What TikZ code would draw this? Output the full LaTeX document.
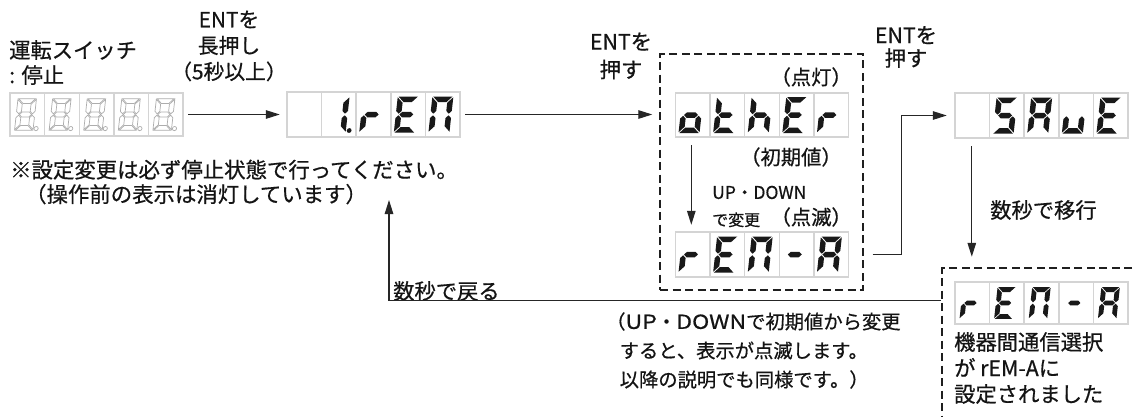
\documentclass[tikz,border=0pt]{standalone}
\usepackage{fontspec}
\usepackage{graphicx}
\setmainfont{Noto Sans CJK JP}[FakeBold=0.6]
\usetikzlibrary{arrows.meta}

\newcommand\Sega{\path[seg] (-9.7,-18)--(9.7,-18)--(4.2,-12.5)--(-4.2,-12.5)--cycle;}
\newcommand\Segd{\path[seg] (-9.7,18)--(9.7,18)--(4.2,12.5)--(-4.2,12.5)--cycle;}
\newcommand\Segg{\path[seg] (-6.95,0)--(-4.2,-2.75)--(4.2,-2.75)--(6.95,0)--(4.2,2.75)--(-4.2,2.75)--cycle;}
\newcommand\Segf{\path[seg] (-10.5,-17.2)--(-5,-11.7)--(-5,-3.55)--(-7.75,-0.8)--(-10.5,-3.55)--cycle;}
\newcommand\Sege{\path[seg] (-10.5,17.2)--(-5,11.7)--(-5,3.55)--(-7.75,0.8)--(-10.5,3.55)--cycle;}
\newcommand\Segb{\path[seg] (10.5,-17.2)--(5,-11.7)--(5,-3.55)--(7.75,-0.8)--(10.5,-3.55)--cycle;}
\newcommand\Segc{\path[seg] (10.5,17.2)--(5,11.7)--(5,3.55)--(7.75,0.8)--(10.5,3.55)--cycle;}
\newcommand\Segp{\path[seg] (13.8,16) circle (2.4);}
\newcommand\Segn{}
\newcommand\wideltr[1]{\scalebox{1.2}[1]{#1}}

% name, left x, top y, height, list of cells, digit scale
\newcommand\sevdisp[6]{%
  \node[disp, minimum height=#4pt] (#1) at (#2+86.5, #3+#4/2) {};
  \foreach \segs [count=\i from 0] in {#5} {
    \draw[cell] (#2+\i*34.6, #3) rectangle ++(34.6, #4);
    \begin{scope}[shift={(#2+\i*34.6+15.5, #3+#4/2)}, xslant=0.11, scale=#6]
      \foreach \s in \segs {\csname Seg\s\endcsname}
    \end{scope}
  }}

\begin{document}
\begin{tikzpicture}[x=1pt, y=-1pt,
  seg/.style={fill=black!90},
  cell/.style={draw=black!17, line width=1.5pt},
  disp/.style={inner sep=0pt, minimum width=173pt},
  dbox/.style={draw=black!88, line width=2.5pt, dash pattern=on 8pt off 4.5pt, inner sep=0pt},
  arr/.style={draw=black!85, line width=1.2pt, -{Triangle[length=14pt,width=8.5pt]}},
  txt/.style={font=\fontsize{21.3}{25}\selectfont, text=black!92, inner sep=0pt},
  mid/.style={font=\fontsize{20.3}{25}\selectfont, text=black!92, inner sep=0pt},
  sml/.style={font=\fontsize{17.5}{27}\selectfont, text=black!92, inner sep=0pt}]
\useasboundingbox (0,0) rectangle (1136,416);
\clip (0,0) rectangle (1136,416);
\fill[white] (0,0) rectangle (1136,416);

% displays
\begin{scope}[seg/.style={draw=black!32, line width=0.7pt, fill=none},
              cell/.style={draw=black!17, line width=1.4pt}]
\sevdisp{d1}{10}{93}{43}{{a,b,c,d,e,f,g,p},{a,b,c,d,e,f,g,p},{a,b,c,d,e,f,g,p},{a,b,c,d,e,f,g,p},{a,b,c,d,e,f,g,p}}{0.88}
\end{scope}
\sevdisp{d2}{287}{92}{45}{{n},{b,c,p},{e,g},{a,d,e,f,g},{a,b,c,e,f}}{1}
\sevdisp{d3}{675.5}{93}{44}{{c,d,e,g},{d,e,f,g},{c,e,f,g},{a,d,e,f,g},{e,g}}{1}
\sevdisp{d4}{675.5}{232}{45}{{e,g},{a,d,e,f,g},{a,b,c,e,f},{g},{a,b,c,e,f,g}}{1}
\sevdisp{d5}{955}{93}{45}{{n},{a,c,d,f,g},{a,b,c,e,f,g},{c,d,e},{a,d,e,f,g}}{1}
\sevdisp{d6}{955}{282}{42}{{e,g},{a,d,e,f,g},{a,b,c,e,f},{g},{a,b,c,e,f,g}}{0.88}

% dashed boxes
\node[dbox, minimum width=203pt, minimum height=236pt] (box1) at (761.5,172) {};
\node[dbox, minimum width=230pt, minimum height=180pt] (box2) at (1057,358) {};

% texts
\node[txt, anchor=west, align=left] (sw) at (9,62.5) {運転スイッチ\\: 停止};
\node[mid, align=center, font=\fontsize{20.8}{26}\selectfont] (ent1) at (229,46) {ENTを\\長押し\\（5秒以上）};
\node[txt, anchor=west, align=left, font=\fontsize{21.4}{24.5}\selectfont] (note) at (10,182) {※設定変更は必ず停止状態で行ってください。\\\hspace{0.7em}（操作前の表示は消灯しています）};
\node[txt, align=center, font=\fontsize{21.3}{28}\selectfont] (ent2) at (621,56) {ENTを\\押す};
\node[mid, anchor=east] (lit) at (852,77) {（点灯）};
\node[mid] (init) at (791,157) {（初期値）};
\node[sml, anchor=west, align=left] (ud) at (712,206.5) {UP・DOWN\\{\fontsize{16}{27}\selectfont で変更}};
\node[mid, anchor=east] (blink) at (852,217) {（点滅）};
\node[txt, align=center, font=\fontsize{21.3}{23}\selectfont] (ent3) at (906,47) {ENTを\\押す};
\node[txt, anchor=west] (mig) at (990,210) {数秒で移行};
\node[txt, anchor=west] (back) at (393,291) {数秒で戻る};
\node[txt, anchor=west, align=left, font=\fontsize{21.3}{26}\selectfont] (done) at (954,368) {機器間通信選択\\が rEM-Aに\\設定されました};
\node[txt, anchor=west, align=left, font=\fontsize{19.3}{29}\selectfont] (expl) at (606,350.5) {（\wideltr{UP}・\wideltr{DOWN}で初期値から変更\\\hspace{0.7em}すると、表示が点滅します。\\\hspace{0.7em}以降の説明でも同様です。）};

% connectors
\coordinate (rt) at (389,200);
\coordinate (a3) at ([xshift=16pt,yshift=-8pt]d3.south west);
\coordinate (a5) at ([xshift=17pt,yshift=-8pt]d5.south west);
\draw[arr, shorten <=5pt, shorten >=7pt] (d1.east) -- (d2.west);
\draw[arr, shorten <=5pt, shorten >=23pt] (d2.east) -- (d2.east -| d3.west);
\draw[arr, shorten >=7pt] (a3) -- (a3 |- d4.north);
\draw[arr, shorten >=8pt] ([xshift=24pt]d4.east) -| ([xshift=-53pt]d5.west) -- (d5.west);
\draw[arr, shorten >=10pt] (a5) -- (a5 |- box2.north);
\draw[arr] ([yshift=-34pt]box2.north west) -| (rt);
\end{tikzpicture}
\end{document}
